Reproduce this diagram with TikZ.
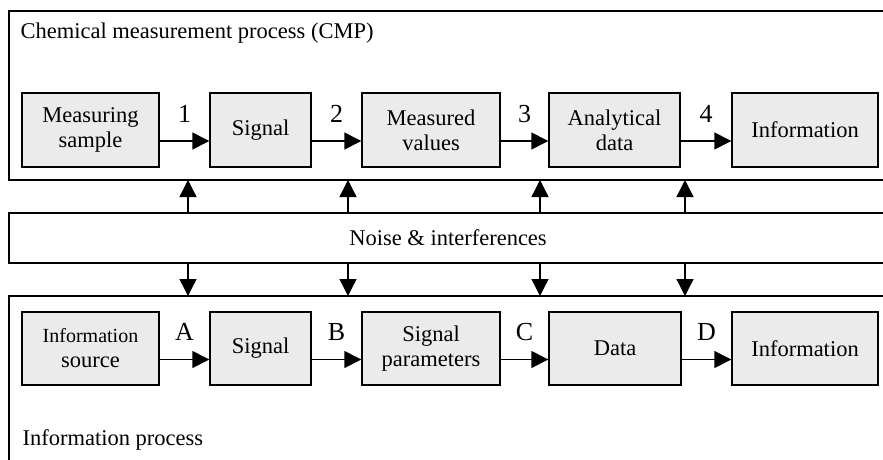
\documentclass[tikz,border=0pt]{standalone}
\usepackage{fontspec}
\setmainfont{Liberation Serif}
\usepackage{tikz}
\usetikzlibrary{arrows.meta}
\usetikzlibrary{calc}
\tikzset{block/.style={rectangle, draw, line width=1.4pt, fill=black!8, align=center, inner sep=0pt}}
\tikzset{flow/.style={line width=1.4pt, -{Triangle[length=17pt,width=17pt]}}}
\tikzset{band/.style={line width=1.6pt}}
\tikzset{steplab/.style={font=\fontsize{26}{28}\selectfont, inner sep=2pt}}

\begin{document}
\begin{tikzpicture}[x=1pt,y=-1pt,font=\fontsize{22.5}{25}\selectfont]
  \useasboundingbox (0,0) rectangle (883,460);
  % the three bands
  \coordinate (cmptop) at (9,11);
  \coordinate (cmpbot) at (9,180);
  \coordinate (noisetop) at (9,213);
  \coordinate (noisebot) at (9,263);
  \coordinate (infotop) at (9,296);
  \draw[band] (883,0 |- cmptop) -- (cmptop) -- (cmpbot) -- (883,0 |- cmpbot);
  \draw[band] (883,0 |- noisetop) -- (noisetop) -- (noisebot) -- (883,0 |- noisebot);
  \draw[band] (883,0 |- infotop) -- (infotop) -- (9,460);
  \node[anchor=west] (cmplab) at (17,33) {Chemical measurement process (CMP)};
  \node (noiselab) at (448,238) {Noise \& interferences};
  \node[anchor=west] (infolab) at (19,440) {Information process};
  \foreach \x/\y/\w/\h/\lab/\txt in {
    90.5/130/137/74/t1/{Measuring\\sample},
    260.5/130/101/74/t2/{Signal},
    431/130/138/74/t3/{Measured\\values},
    614.5/130/131/74/t4/{Analytical\\data},
    805/130/146/74/t5/{Information},
    90.5/348.5/137/73/b1/{\fontsize{20}{24}\selectfont Information\\source},
    260.5/348.5/101/73/b2/{Signal},
    431/348.5/138/73/b3/{Signal\\parameters},
    615/348.5/132/73/b4/{Data},
    805/348.5/146/73/b5/{Information}%
  } {
    \node[block, minimum width=\w, minimum height=\h] (\lab) at (\x,\y) {\txt};
  }
  \foreach \u/\v/\lab in {
    t1/t2/1,
    t2/t3/2,
    t3/t4/3,
    t4/t5/4,
    b1/b2/A,
    b2/b3/B,
    b3/b4/C,
    b4/b5/D%
  }{
    \draw[flow] ([yshift=-11pt]\u.east) -- node[midway, above=16pt, steplab] {\lab} ([yshift=-11pt]\v.west);
  }
  % noise acts on both processes
  \foreach \x in {188, 348, 540, 685} {
    \draw[flow] (\x,0 |- noisetop) -- (\x,0 |- cmpbot);
    \draw[flow] (\x,0 |- noisebot) -- (\x,0 |- infotop);
  }
\end{tikzpicture}
\end{document}
